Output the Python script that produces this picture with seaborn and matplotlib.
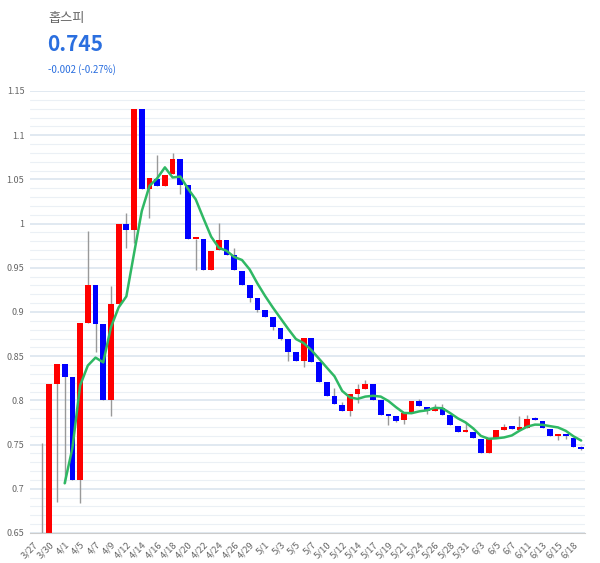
import matplotlib
matplotlib.use('Agg')
import numpy as np
import pandas as pd
import matplotlib.pyplot as plt
import seaborn as sns

# tick labels (every other trading day)
tick_labels = ['3/27', '3/30', '4/1', '4/5', '4/7', '4/9', '4/12', '4/14', '4/16', '4/18',
               '4/20', '4/22', '4/24', '4/26', '4/29', '5/1', '5/3', '5/5', '5/7', '5/10',
               '5/12', '5/14', '5/17', '5/19', '5/21', '5/24', '5/26', '5/28', '5/31', '6/3',
               '6/5', '6/7', '6/11', '6/13', '6/15', '6/18']

# daily OHLC (first two days sit below the visible range)
open_ = [0.500, 0.511, 0.534, 0.818, 0.841, 0.826, 0.710, 0.888, 0.931, 0.886,
         0.800, 0.909, 1.000, 0.993, 1.130, 1.039, 1.050, 1.043, 1.056, 1.073,
         1.044, 0.982, 0.982, 0.948, 0.970, 0.981, 0.965, 0.946, 0.931, 0.9155,
         0.902, 0.894, 0.882, 0.870, 0.855, 0.845, 0.871, 0.843, 0.821, 0.805,
         0.795, 0.788, 0.807, 0.8125, 0.818, 0.8005, 0.7835, 0.782, 0.778, 0.787,
         0.799, 0.793, 0.788, 0.791, 0.783, 0.771, 0.764, 0.7646, 0.756, 0.741,
         0.757, 0.7665, 0.770, 0.767, 0.769, 0.7797, 0.777, 0.7676, 0.760, 0.761,
         0.758, 0.747]
close = [0.511, 0.534, 0.818, 0.841, 0.827, 0.710, 0.888, 0.931, 0.886, 0.800,
         0.909, 1.000, 0.993, 1.130, 1.039, 1.051, 1.043, 1.055, 1.073, 1.044,
         0.982, 0.983, 0.948, 0.969, 0.981, 0.965, 0.948, 0.931, 0.9155, 0.902,
         0.894, 0.883, 0.870, 0.855, 0.845, 0.871, 0.8435, 0.821, 0.805, 0.796,
         0.788, 0.807, 0.8125, 0.818, 0.8005, 0.7835, 0.782, 0.777, 0.786, 0.799,
         0.794, 0.788, 0.791, 0.7835, 0.772, 0.764, 0.765, 0.757, 0.741, 0.756,
         0.7665, 0.770, 0.768, 0.768, 0.779, 0.778, 0.769, 0.760, 0.761, 0.760,
         0.747, 0.745]
high = [0.511, 0.752, 0.818, 0.841, 0.841, 0.826, 0.888, 0.992, 0.931, 0.886,
        0.929, 1.000, 1.012, 1.130, 1.130, 1.051, 1.078, 1.055, 1.080, 1.073,
        1.044, 0.983, 0.982, 0.969, 1.001, 0.981, 0.972, 0.946, 0.931, 0.9155,
        0.902, 0.894, 0.882, 0.870, 0.855, 0.871, 0.871, 0.843, 0.821, 0.814,
        0.798, 0.807, 0.818, 0.823, 0.818, 0.8005, 0.7835, 0.782, 0.786, 0.799,
        0.802, 0.793, 0.796, 0.796, 0.783, 0.771, 0.774, 0.7646, 0.756, 0.756,
        0.7665, 0.773, 0.770, 0.782, 0.7835, 0.7816, 0.777, 0.7676, 0.761, 0.761,
        0.758, 0.748]
low = [0.490, 0.505, 0.530, 0.685, 0.706, 0.710, 0.684, 0.888, 0.855, 0.800,
       0.782, 0.909, 0.972, 0.978, 1.039, 1.006, 1.043, 1.043, 1.056, 1.033,
       0.982, 0.948, 0.948, 0.948, 0.970, 0.965, 0.948, 0.931, 0.911, 0.900,
       0.894, 0.880, 0.868, 0.845, 0.845, 0.838, 0.8435, 0.821, 0.805, 0.796,
       0.788, 0.782, 0.797, 0.8125, 0.8005, 0.7835, 0.772, 0.775, 0.773, 0.787,
       0.794, 0.785, 0.788, 0.7835, 0.772, 0.764, 0.764, 0.757, 0.741, 0.741,
       0.757, 0.7665, 0.768, 0.767, 0.769, 0.778, 0.769, 0.760, 0.755, 0.756,
       0.747, 0.744]

df = pd.DataFrame({'open': open_, 'high': high, 'low': low, 'close': close})
df['pos'] = np.arange(len(df))
df['ma5'] = df['close'].rolling(5).mean()

sns.set_theme(style='white')
plt.rcParams['font.family'] = ['Noto Sans CJK KR', 'DejaVu Sans']

fig = plt.figure(figsize=(6, 5.63), dpi=100)
ax = fig.add_axes([0.05, 0.0533, 0.925, 0.7851])

# grid: major every 0.05, minor every 0.01
for v in np.arange(0.65, 1.1501, 0.01):
    major = abs(round(v * 100) % 5) == 0
    ax.axhline(v, color='#d8e3ed' if major else '#ebf0f5',
               lw=1.1 if major else 0.8, zorder=0)

up = df['close'] >= df['open']
colors = np.where(up, '#ff0000', '#0000ff')

ax.vlines(df['pos'], df['low'], df['high'], color='#999999', lw=1, zorder=1)
body_low = df[['open', 'close']].min(axis=1)
body_h = (df['close'] - df['open']).abs().clip(lower=0.0025)
ax.bar(df['pos'], body_h, bottom=body_low, width=0.75, color=colors,
       edgecolor='none', zorder=2)

sns.lineplot(data=df, x='pos', y='ma5', ax=ax, color='#2fb864', lw=1.8, zorder=3)

ax.set_xlim(-0.5, len(df) - 0.5)
ax.set_ylim(0.65, 1.15)
ax.set_yticks([0.65, 0.7, 0.75, 0.8, 0.85, 0.9, 0.95, 1.0, 1.05, 1.1, 1.15])
ax.set_yticklabels(['0.65', '0.7', '0.75', '0.8', '0.85', '0.9', '0.95', '1',
                    '1.05', '1.1', '1.15'], fontsize=6.5, color='#666666')
ax.set_xticks(np.arange(0, len(df), 2))
ax.set_xticklabels(tick_labels, rotation=45, ha='right', rotation_mode='anchor',
                   fontsize=6.8, color='#666666')
ax.tick_params(axis='x', length=3, color='#cccccc', pad=2)
ax.tick_params(axis='y', length=0, pad=4)
ax.set_xlabel('')
ax.set_ylabel('')
for s in ['top', 'left', 'right']:
    ax.spines[s].set_visible(False)
ax.spines['bottom'].set_color('#cccccc')
ax.spines['bottom'].set_linewidth(0.8)

fig.text(0.08, 0.968, '홉스피', fontsize=9.5, color='#666666', va='center')
fig.text(0.078, 0.921, '0.745', fontsize=15, color='#2b6fdf', fontweight='bold',
         va='center')
fig.text(0.08, 0.876, '-0.002 (-0.27%)', fontsize=7, color='#2b6fdf', va='center')

fig.savefig('out.png', dpi=100)
